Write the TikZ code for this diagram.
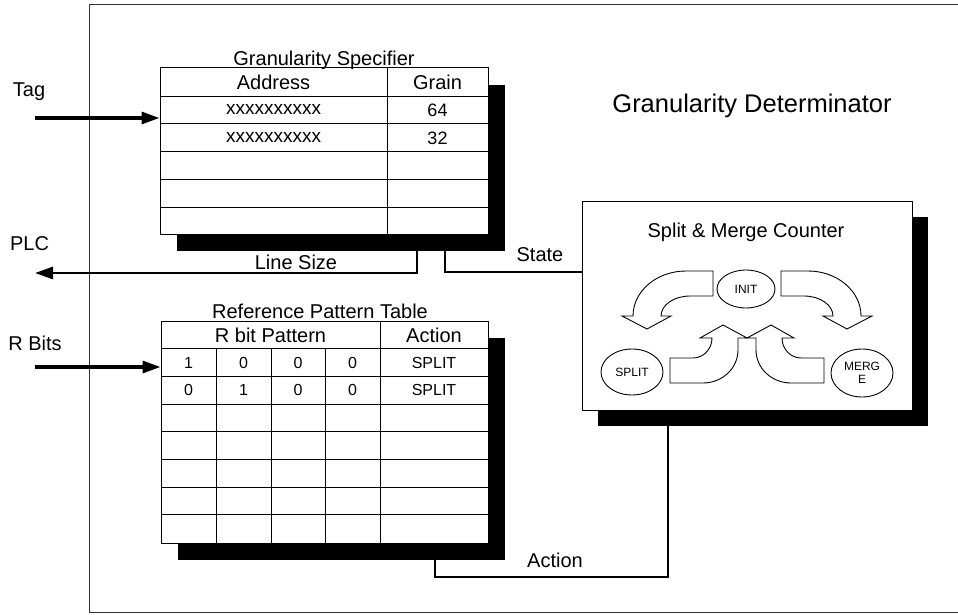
\documentclass[tikz,border=0pt]{standalone}
\usepackage{fontspec}
\setmainfont{Liberation Sans}
\usetikzlibrary{arrows.meta,shapes.geometric}
\begin{document}
\begin{tikzpicture}[x=1pt,y=-1pt,
  lbl/.style={inner sep=0pt, text height=14.3pt, text depth=0pt, font=\fontsize{20}{24}\selectfont},
  biglbl/.style={inner sep=0pt, text height=18.3pt, text depth=0pt, font=\fontsize{25.5}{30}\selectfont},
  xcell/.style={inner sep=0pt, text height=9.9pt, text depth=0pt, font=\fontsize{19}{22}\selectfont},
  numcell/.style={inner sep=0pt, text height=13pt, text depth=0pt, font=\fontsize{18}{22}\selectfont},
  smallcell/.style={inner sep=0pt, text height=11.5pt, text depth=0pt, font=\fontsize{16}{18}\selectfont},
  shadowbox/.style={draw=none, fill=black, inner sep=0pt},
  tbl/.style={draw, fill=white, line width=1pt, inner sep=0pt},
  grid/.style={line width=0.9pt},
  oval/.style={ellipse, draw, line width=0.9pt, inner sep=0pt, align=center, font=\fontsize{12}{13}\selectfont},
  bigarrow/.style={draw, fill=white, line width=0.9pt, line join=miter},
  arr/.style={line width=3.2pt, -{Triangle[length=18pt,width=12pt]}},
  conn/.style={line width=2.2pt},
  frameline/.style={line width=1pt, draw=black!80}
]
\useasboundingbox (0,0) rectangle (958,615);

% outer frame
\draw[frameline] (958,5) -- (89,5) -- (89,612) -- (958,612);

% title of determinator
\node[biglbl] (gdet) at (752,103) {Granularity Determinator};

% ---------------- Granularity Specifier ----------------
\node[shadowbox, minimum width=328pt, minimum height=166pt] (gssh) at (341,168) {};
\node[tbl, minimum width=328pt, minimum height=166pt] (gs) at (324,151) {};
\foreach \yy in {96,123,151,179,207} \draw[grid] (160,\yy) -- (488,\yy);
\draw[grid] (387,68) -- (387,234);
\node[lbl, anchor=base, text height=, text depth=] (gstitle) at (324,66) {Granularity Specifier};
\node[lbl] (gsaddr) at (273.5,82) {Address};
\node[lbl] (gsgrain) at (437.5,82) {Grain};
\node[xcell] (gsa1) at (273.5,110) {xxxxxxxxxx};
\node[numcell] (gsg1) at (437.5,110) {64};
\node[xcell] (gsa2) at (273.5,137.5) {xxxxxxxxxx};
\node[numcell] (gsg2) at (437.5,137.5) {32};

% ---------------- Reference Pattern Table ----------------
\node[shadowbox, minimum width=327pt, minimum height=222pt] (rptsh) at (341.5,449) {};
\node[tbl, minimum width=327pt, minimum height=222pt] (rpt) at (324.5,432) {};
\foreach \yy in {348.7,376.4,404.1,431.8,459.5,487.2,514.9} \draw[grid] (161,\yy) -- (488,\yy);
\foreach \xx in {216,271,325} \draw[grid] (\xx,348.7) -- (\xx,543);
\draw[grid] (380,321) -- (380,543);
\node[lbl, anchor=base, text height=, text depth=] (rpttitle) at (320,318) {Reference Pattern Table};
\node[lbl] (rpthdr) at (270.5,335) {R bit Pattern};
\node[lbl] (rptact) at (434,335) {Action};
\node[smallcell] (c11) at (188.5,362.5) {1};
\node[smallcell] (c12) at (243.5,362.5) {0};
\node[smallcell] (c13) at (298,362.5) {0};
\node[smallcell] (c14) at (352.5,362.5) {0};
\node[smallcell] (c15) at (434,362.5) {SPLIT};
\node[smallcell] (c21) at (188.5,390.2) {0};
\node[smallcell] (c22) at (243.5,390.2) {1};
\node[smallcell] (c23) at (298,390.2) {0};
\node[smallcell] (c24) at (352.5,390.2) {0};
\node[smallcell] (c25) at (434,390.2) {SPLIT};

% ---------------- Split & Merge Counter ----------------
\node[shadowbox, minimum width=330pt, minimum height=209pt] (smcsh) at (763,321.5) {};
\node[tbl, minimum width=330pt, minimum height=209pt] (smc) at (747,305.5) {};
\node[lbl] (smctitle) at (746,230) {Split \& Merge Counter};
\node[oval, minimum width=58pt, minimum height=38pt] (init) at (746,289) {INIT};
\node[oval, minimum width=62pt, minimum height=46pt] (split) at (632,372) {SPLIT};
\node[oval, minimum width=62pt, minimum height=48pt] (merge) at (862,373) {MERG\\E};

% big hollow arrows
\draw[bigarrow] (713,271) -- (686,271) .. controls (656.7,271) and (633,291.1) .. (633,316)
  -- (622,316) -- (647,329) -- (671,316) -- (661,316)
  .. controls (661,305) and (674,296) .. (690,296) -- (713,296) -- cycle;
\draw[bigarrow] (781,271) -- (808,271) .. controls (837.3,271) and (861,291.1) .. (861,316)
  -- (872,316) -- (847,329) -- (823,316) -- (833,316)
  .. controls (833,305) and (820,296) .. (804,296) -- (781,296) -- cycle;
\draw[bigarrow] (670,358) -- (693,358) .. controls (703.5,358) and (712,349) .. (712,338)
  -- (700,338) -- (723,325) -- (747,338) -- (738,338) -- (738,350)
  .. controls (738,368.2) and (722.3,383) .. (703,383) -- (670,383) -- cycle;
\draw[bigarrow] (824,358) -- (801,358) .. controls (790.5,358) and (782,349) .. (782,338)
  -- (794,338) -- (771,325) -- (747,338) -- (756,338) -- (756,350)
  .. controls (756,368.2) and (771.7,383) .. (791,383) -- (824,383) -- cycle;

% ---------------- outside labels and connectors ----------------
\node[lbl] (tag) at (29,89.5) {Tag};
\node[lbl] (plc) at (29.5,243) {PLC};
\node[lbl] (rbits) at (35,343) {R Bits};

\coordinate (tagS) at (35,118);
\draw[arr] (tagS) -- (tagS -| gs.west);
\coordinate (rbS) at (35,367);
\draw[arr] (rbS) -- (rbS -| rpt.west);

\coordinate (lsX) at (417,0);
\coordinate (plcE) at (35,273);
\draw[conn, line width=2.8pt, -{Triangle[length=18pt,width=12pt]}] (gssh.south -| lsX) |- (plcE);
\node[lbl] (linesize) at (296,262) {Line Size};

\coordinate (stX) at (445,0);
\coordinate (stY) at (0,272);
\draw[conn] (gssh.south -| stX) |- (smc.west |- stY);
\node[lbl] (state) at (540,254.5) {State};

\coordinate (acL) at (435,577);
\coordinate (acR) at (668,0);
\draw[conn] (rptsh.south -| acL) -- (acL) -| (smcsh.south -| acR);
\node[lbl] (action) at (555,560) {Action};
\end{tikzpicture}
\end{document}
